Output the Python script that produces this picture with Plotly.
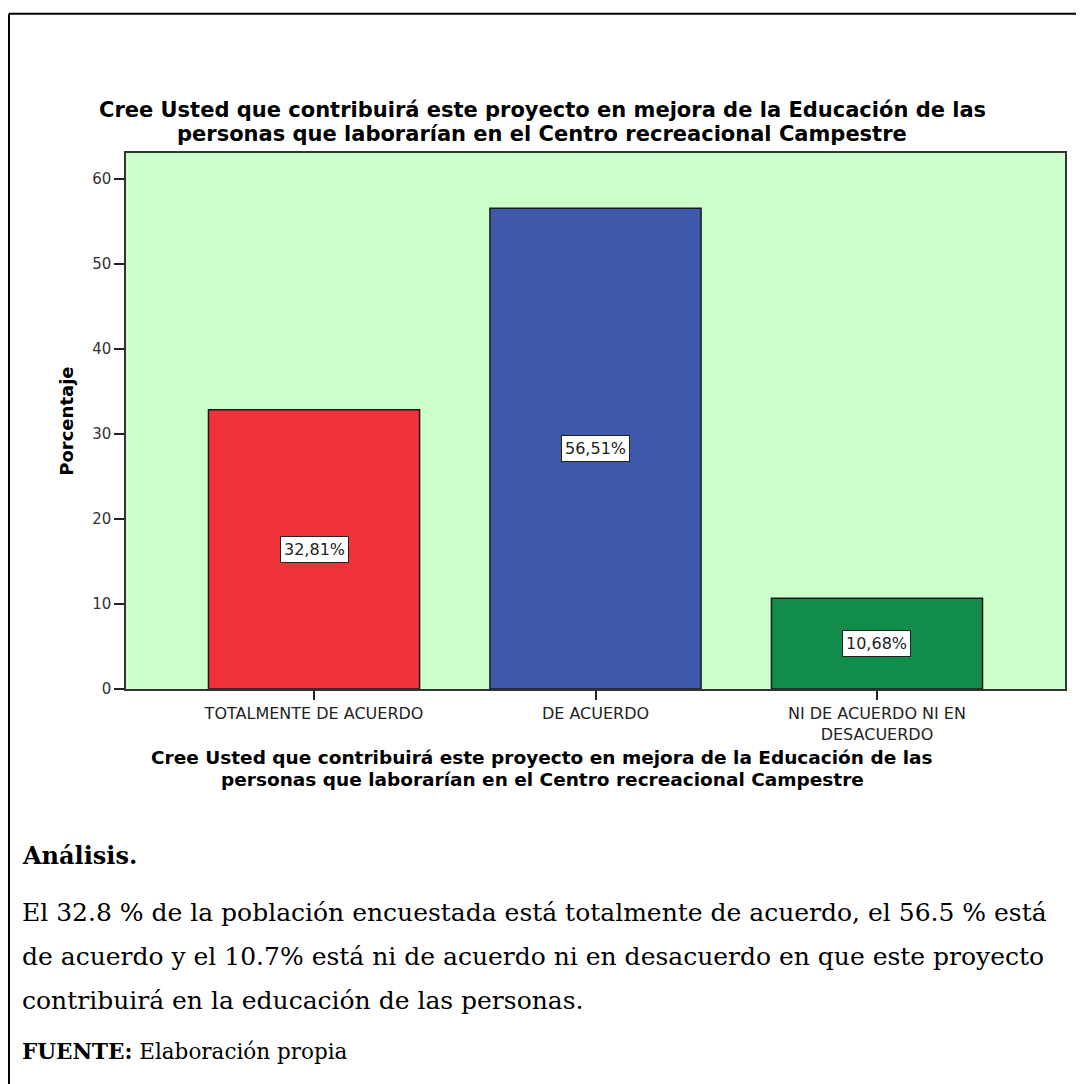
import plotly.graph_objects as go

categories = ["TOTALMENTE DE ACUERDO", "DE ACUERDO", "NI DE ACUERDO NI EN<br>DESACUERDO"]
percentages = [32.81, 56.51, 10.68]
bar_labels = ["32,81%", "56,51%", "10,68%"]
bar_colors = ["#F0323A", "#3E58AA", "#118C4A"]
y_ticks = [0, 10, 20, 30, 40, 50, 60]

title_lines = [
    "Cree Usted que contribuirá este proyecto en mejora de la Educación de las",
    "personas que laborarían en el Centro recreacional Campestre",
]
analysis_lines = [
    "El 32.8 % de la población encuestada está totalmente de acuerdo, el 56.5 % está",
    "de acuerdo y el 10.7% está ni de acuerdo ni en desacuerdo en que este proyecto",
    "contribuirá en la educación de las personas.",
]

# page (screenshot) pixel geometry; the html body adds an 8px margin
OFF = 8
W = H = 1076
L, R, T, B = 126, 1065, 153, 689.5


def xp(px):
    return (px - L) / (R - L)


def yp(py):
    return (B - py) / (B - T)


SANS = "DejaVu Sans, Verdana, sans-serif"
SERIF = "DejaVu Serif, serif"

x_idx = list(range(len(categories)))

fig = go.Figure()
fig.add_trace(go.Bar(
    x=x_idx, y=percentages, width=0.75,
    marker=dict(color=bar_colors, line=dict(color="#1a1a1a", width=1.5)),
    hoverinfo="skip", showlegend=False,
))

annotations = []
for i, (v, lab) in enumerate(zip(percentages, bar_labels)):
    annotations.append(dict(
        x=i, y=v / 2, xref="x", yref="y", text=lab, showarrow=False,
        font=dict(family=SANS, size=16, color="#222222"),
        bgcolor="white", bordercolor="#222222", borderwidth=1, borderpad=3,
    ))

# chart title (two lines)
for line, py in zip(title_lines, [109.5, 134]):
    annotations.append(dict(
        x=xp(542), y=yp(py), xref="paper", yref="paper", text="<b>" + line + "</b>",
        showarrow=False, xanchor="center", yanchor="middle",
        font=dict(family=SANS, size=21, color="#000000"),
    ))
# x axis title (two lines)
for line, py in zip(title_lines, [758, 780]):
    annotations.append(dict(
        x=xp(542), y=yp(py), xref="paper", yref="paper", text="<b>" + line + "</b>",
        showarrow=False, xanchor="center", yanchor="middle",
        font=dict(family=SANS, size=18.5, color="#000000"),
    ))
# y axis title
annotations.append(dict(
    x=xp(67), y=yp(422), xref="paper", yref="paper", text="<b>Porcentaje</b>",
    showarrow=False, xanchor="center", yanchor="middle", textangle=-90,
    font=dict(family=SANS, size=18, color="#000000"),
))
# text block below
annotations.append(dict(
    x=xp(20), y=yp(856), xref="paper", yref="paper", text="<b>Análisis.</b>",
    showarrow=False, xanchor="left", yanchor="middle",
    font=dict(family=SERIF, size=24, color="#000000"),
))
for line, py in zip(analysis_lines, [913, 957, 1001]):
    annotations.append(dict(
        x=xp(20), y=yp(py), xref="paper", yref="paper", text=line,
        showarrow=False, xanchor="left", yanchor="middle",
        font=dict(family=SERIF, size=25, color="#000000"),
    ))
annotations.append(dict(
    x=xp(20), y=yp(1052), xref="paper", yref="paper",
    text="<b>FUENTE:</b> Elaboración propia",
    showarrow=False, xanchor="left", yanchor="middle",
    font=dict(family=SERIF, size=21.5, color="#000000"),
))

shapes = [
    dict(type="line", xref="paper", yref="paper", x0=xp(9), x1=xp(9), y0=yp(13.5), y1=yp(1100),
         line=dict(color="black", width=2)),
    dict(type="line", xref="paper", yref="paper", x0=xp(9), x1=xp(1078), y0=yp(13.5), y1=yp(13.5),
         line=dict(color="black", width=2)),
    dict(type="line", xref="paper", yref="paper", x0=xp(1078), x1=xp(1078), y0=yp(13.5), y1=yp(1100),
         line=dict(color="black", width=2)),
]

fig.update_layout(
    width=W, height=H,
    margin=dict(l=L - OFF, r=W - (R - OFF), t=T - OFF, b=H - (B - OFF), pad=0),
    paper_bgcolor="white", plot_bgcolor="#CCFFCC",
    annotations=annotations, shapes=shapes,
    xaxis=dict(
        range=[-0.668, 2.668], tickmode="array", tickvals=x_idx, ticktext=categories,
        showline=True, mirror=True, linecolor="#333333", linewidth=1.5,
        ticks="outside", ticklen=9, tickcolor="#222222", tickwidth=1.5,
        showgrid=False, zeroline=False, fixedrange=True,
        tickfont=dict(family=SANS, size=16, color="#222222"),
    ),
    yaxis=dict(
        range=[0, 63], tickmode="array", tickvals=y_ticks,
        showline=True, mirror=True, linecolor="#333333", linewidth=1.5,
        ticks="outside", ticklen=10, tickcolor="#222222", tickwidth=1.5,
        showgrid=False, zeroline=False, fixedrange=True,
        tickfont=dict(family=SANS, size=15, color="#333333"),
    ),
)

fig.write_html("out.html")
